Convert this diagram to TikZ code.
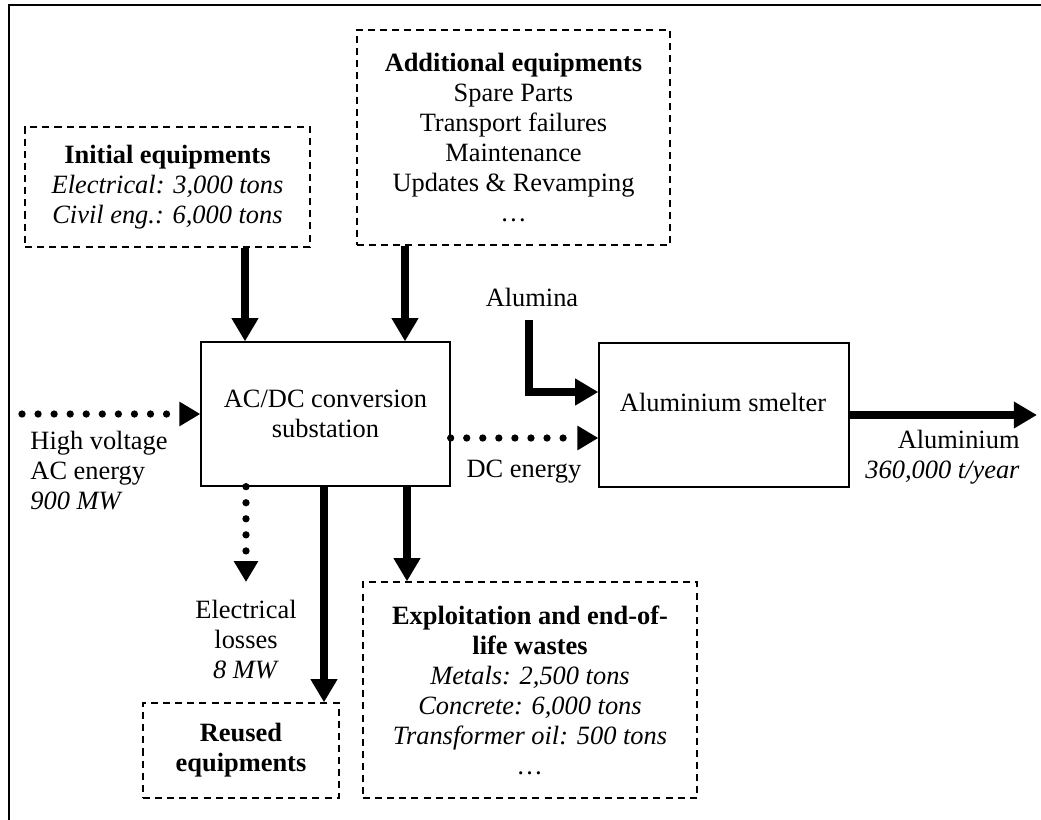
\documentclass[tikz,border=0pt]{standalone}
\usepackage{fontspec}
\setmainfont{Liberation Serif}
\usetikzlibrary{arrows.meta}
\newcommand\upx{0.4545pt}
\begin{document}
\begin{tikzpicture}[x=0.4545pt,y=-0.4545pt,
  font=\fontsize{12}{13.64}\selectfont,
  dbox/.style={draw,line width=0.6pt,dash pattern=on 3.2pt off 2.3pt,align=center,inner sep=0pt},
  sbox/.style={draw,line width=0.6pt,align=center,inner sep=0pt},
  flow/.style={line width=3.8pt,-{Triangle[length=10.5pt,width=11.5pt]}},
  dotflow/.style={line width=3.3pt,line cap=round,dash pattern=on 0pt off 7.3pt,-{Triangle[length=9.5pt,width=10.5pt]}},
  lbl/.style={inner sep=0pt}]
\useasboundingbox (0,0) rectangle (1041,820);
\draw[line width=1pt] (9,820) -- (9,5) -- (1041,5);

% boxes
\node[dbox,minimum width=285*\upx,minimum height=120*\upx] (init) at (167.5,187)
  {\textbf{Initial equipments}\\\textit{Electrical: 3,000 tons}\\\textit{Civil eng.: 6,000 tons}};
\node[dbox,minimum width=313*\upx,minimum height=215*\upx] (add) at (513.5,137.5)
  {\textbf{Additional equipments}\\Spare Parts\\Transport failures\\Maintenance\\Updates \& Revamping\\\dots};
\node[sbox,minimum width=249*\upx,minimum height=144*\upx] (acdc) at (325.5,414)
  {AC/DC conversion\\substation};
\node[sbox,minimum width=250*\upx,minimum height=144*\upx] (smelter) at (724,415) {};
\node[lbl] (smeltertext) at (723,402) {Aluminium smelter};
\node[dbox,minimum width=196*\upx,minimum height=95*\upx] (reused) at (241,750.5)
  {\textbf{Reused}\\\textbf{equipments}};
\node[dbox,minimum width=334*\upx,minimum height=216*\upx] (expl) at (530,690)
  {\textbf{Exploitation and end-of-}\\\textbf{life wastes}\\\textit{Metals: 2,500 tons}\\\textit{Concrete: 6,000 tons}\\\textit{Transformer oil: 500 tons}\\\textit{\dots}};

% labels
\node[lbl] (alumina) at (532,297) {Alumina};
\node[lbl] (dctext) at (524,472) {DC energy};
\node[lbl,anchor=west,align=left] (hv) at (30,471) {High voltage\\AC energy\\\textit{900 MW}};
\node[lbl,align=center] (losses) at (246,640) {Electrical\\losses\\\textit{8 MW}};
\node[lbl,anchor=east,align=right] (alout) at (1020,457) {Aluminium\\\textit{360,000 t/year}};

% helper coordinates
\coordinate (xa) at (245,0);
\coordinate (xb) at (405,0);
\coordinate (xl) at (246,0);
\coordinate (xr) at (324,0);
\coordinate (xe) at (407,0);
\coordinate (yal) at (0,392);
\coordinate (ydc) at (0,438);
\coordinate (hvstart) at (22,414);
\coordinate (alstart) at (529,320);
\coordinate (outend) at (1037,415);
\coordinate (lossend) at (246,582);

% connectors
\draw[flow] (init.south -| xa) -- (acdc.north -| xa);
\draw[flow] (add.south -| xb) -- (acdc.north -| xb);
\draw[dotflow] (hvstart) -- (acdc.west);
\draw[flow] (alstart) |- (smelter.west |- yal);
\draw[dotflow] (acdc.east |- ydc) -- (smelter.west |- ydc);
\draw[flow] (smelter.east) -- (outend);
\draw[dotflow] (acdc.south -| xl) -- (lossend);
\draw[flow] (acdc.south -| xr) -- (reused.north -| xr);
\draw[flow] (acdc.south -| xe) -- (expl.north -| xe);
\end{tikzpicture}
\end{document}
